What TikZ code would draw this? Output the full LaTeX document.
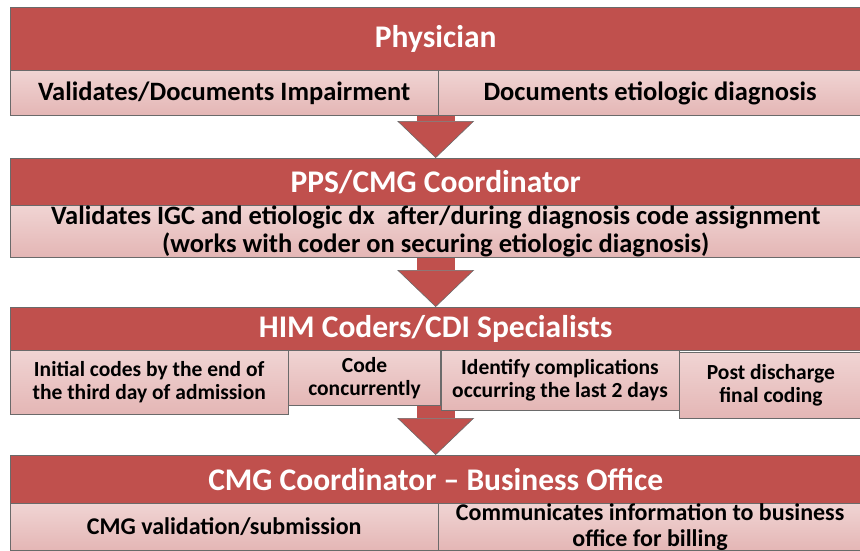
\documentclass[tikz,border=0pt]{standalone}
\usepackage{fontspec}
\setmainfont{Carlito}
\usepackage{xcolor}
\usetikzlibrary{positioning, arrows.meta, backgrounds}
\definecolor{headred}{HTML}{C0504D}
\definecolor{taskpink}{HTML}{E4B6B5}
\definecolor{tasktop}{HTML}{F0D4D3}
\definecolor{edgegray}{HTML}{6A6A6A}
\tikzset{
    header/.style={draw=edgegray, fill=headred, text=white, inner sep=0pt, anchor=north west, minimum width=851pt, font=\bfseries\fontsize{31.5}{33}\selectfont}, % the red bar of each role
    task/.style={draw=edgegray, top color=tasktop, bottom color=taskpink, inner sep=0pt, align=center, font=\bfseries\fontsize{26.5}{28}\selectfont}, % the pink boxes under a bar
    small/.style={font=\bfseries\fontsize{21.5}{23}\selectfont}, % the four boxes of the coders
    medium/.style={font=\bfseries\fontsize{24}{25.5}\selectfont}, % the boxes of the business office
    flowarrow/.style={headred, line width=38pt, -{Triangle[width=77pt, length=37pt, line width=0.6pt, fill=headred, color=edgegray]}}, % the big arrow down to the next role
}

\begin{document}
\begin{tikzpicture}[x=1pt, y=-1pt]
    \useasboundingbox (0,0) rectangle (860,551);

    % Physician
    \node[header, minimum height=63pt] (phys) at (10,7) {Physician};
    \node[task, minimum width=428pt, minimum height=45pt, below right=0pt and 0pt of phys.south west] (impair) {Validates/Documents Impairment};
    \node[task, minimum width=423pt, minimum height=45pt, right=0pt of impair] (etiol) {Documents etiologic diagnosis};

    % PPS/CMG Coordinator
    \node[header, minimum height=47pt] (ppscmg) at (10,158) {PPS/CMG Coordinator};
    \node[task, minimum width=851pt, minimum height=50pt, below right=0pt and 0pt of ppscmg.south west] (igc) {Validates IGC and etiologic dx\ \ after/during diagnosis code assignment\\(works with coder on securing etiologic diagnosis)};

    % HIM Coders/CDI Specialists
    \node[header, minimum height=43pt] (himcdi) at (10,307) {HIM Coders/CDI Specialists};
    \node[task, small, minimum width=278pt, minimum height=64pt, below right=0pt and 0pt of himcdi.south west] (initial) {Initial codes by the end of\\the third day of admission};
    \node[task, small, minimum width=152pt, minimum height=55pt, right=0pt of initial.north east, anchor=north west] (concur) {Code\\concurrently};
    \node[task, small, minimum width=238pt, minimum height=60pt, right=0pt of concur.north east, anchor=north west] (compl) {Identify complications\\occurring the last 2 days};
    \node[task, small, minimum width=183pt, minimum height=66pt, right=0pt of compl.north east, anchor=north west, yshift=-2pt] (postdc) {Post discharge\\final coding};

    % CMG Coordinator - Business Office
    \node[header, minimum height=48pt] (cmgbo) at (10,455) {CMG Coordinator – Business Office};
    \node[task, medium, minimum width=428pt, minimum height=47pt, below right=0pt and 0pt of cmgbo.south west] (valid) {CMG validation/submission};
    \node[task, medium, minimum width=423pt, minimum height=47pt, right=0pt of valid] (commun) {Communicates information to business\\office for billing};

    % arrows behind the boxes
    \begin{scope}[on background layer]
        \draw[flowarrow] (phys) -- (ppscmg);
        \draw[flowarrow] (ppscmg) -- (himcdi);
        \draw[flowarrow] (himcdi) -- (cmgbo);
    \end{scope}
\end{tikzpicture}
\end{document}
